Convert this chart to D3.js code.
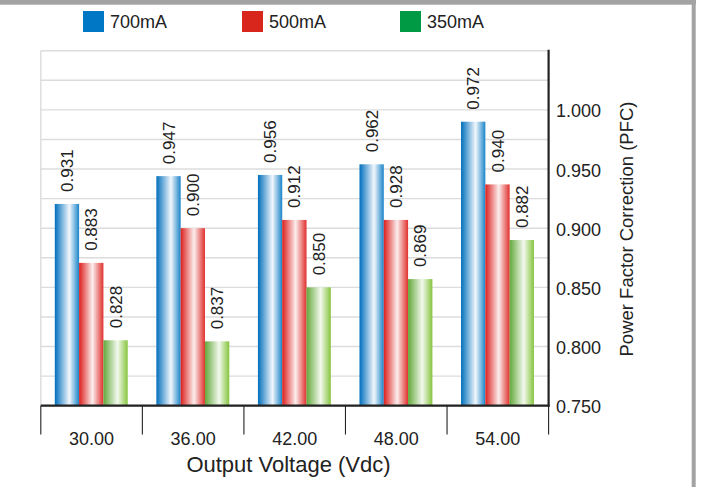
<!DOCTYPE html>
<html><head><meta charset="utf-8">
<script src="https://cdn.jsdelivr.net/npm/d3@7"></script>
<style>
html,body{margin:0;padding:0;background:#fff;}
svg{display:block;font-family:"Liberation Sans",Arial,sans-serif;}
</style></head>
<body><svg id="c" width="704" height="487"></svg>
<script>
const categories = ["30.00","36.00","42.00","48.00","54.00"];
const seriesNames = ["700mA","500mA","350mA"];
// bar heights as drawn
const pfc700 = [0.9205, 0.944, 0.945, 0.954, 0.990];
const pfc500 = [0.8707, 0.900, 0.907, 0.907, 0.937];
const pfc350 = [0.8053, 0.8044, 0.850, 0.857, 0.890];
// value labels as printed
const label700 = ["0.931","0.947","0.956","0.962","0.972"];
const label500 = ["0.883","0.900","0.912","0.928","0.940"];
const label350 = ["0.828","0.837","0.850","0.869","0.882"];
const yTicks = [0.750,0.800,0.850,0.900,0.950,1.000];
const yDomain = [0.75, 1.05];

const series = [
  {name: seriesNames[0], values: pfc700, labels: label700, key:"b"},
  {name: seriesNames[1], values: pfc500, labels: label500, key:"r"},
  {name: seriesNames[2], values: pfc350, labels: label350, key:"g"}
];
const solid = {b:"#0077c4", r:"#d9261c", g:"#009a44"};
const grads = {
  b:[["0%","#006fbd"],["60%","#f2f7fc"],["100%","#1b84c9"]],
  r:[["0%","#dd1f1c"],["55%","#fbeeee"],["100%","#e0302c"]],
  g:[["0%","#63a83a"],["58%","#f3f9ee"],["100%","#86c43e"]]
};

const svg = d3.select("#c");
const defs = svg.append("defs");
Object.entries(grads).forEach(([k,stops])=>{
  const lg = defs.append("linearGradient").attr("id","grad-"+k)
    .attr("x1","0%").attr("x2","100%").attr("y1","0%").attr("y2","0%");
  stops.forEach(s=>lg.append("stop").attr("offset",s[0]).attr("stop-color",s[1]));
});

const L = 40.8, R = 548.6, T = 50.7, B = 405.7;
const x = d3.scaleBand().domain(categories).range([L,R]).padding(0);
const y = d3.scaleLinear().domain(yDomain).range([B,T]);
const barW = 24.3, groupOff = 14;

// outer frame
svg.append("rect").attr("x",0).attr("y",0).attr("width",696).attr("height",4.7).attr("fill","#a3a3a3");
svg.append("rect").attr("x",691.7).attr("y",0).attr("width",4).attr("height",487).attr("fill","#a3a3a3");

// gridlines
const grid = d3.range(0, 13).map(i => yDomain[0] + i*0.025);
svg.append("g").selectAll("line").data(grid).join("line")
  .attr("x1",L).attr("x2",R).attr("y1",d=>y(d)).attr("y2",d=>y(d))
  .attr("stroke","#dcdcdc").attr("stroke-width",1.4);
svg.append("line").attr("x1",L).attr("x2",L).attr("y1",T).attr("y2",B)
  .attr("stroke","#dcdcdc").attr("stroke-width",1.4);

// bars
series.forEach((s,si)=>{
  svg.append("g").selectAll("rect").data(s.values).join("rect")
    .attr("x",(d,i)=>x(categories[i]) + groupOff + si*barW)
    .attr("y",d=>y(d))
    .attr("width",barW)
    .attr("height",d=>B - y(d))
    .attr("fill","url(#grad-"+s.key+")");
  svg.append("g").selectAll("text").data(s.values).join("text")
    .attr("transform",(d,i)=>{
      const cx = x(categories[i]) + groupOff + si*barW + barW/2;
      return `translate(${cx},${y(d)-12}) rotate(-90)`;
    })
    .attr("dy","0.36em")
    .attr("font-size",17).attr("fill","#222")
    .text((d,i)=>s.labels[i]);
});

// bottom axis with band-boundary ticks
svg.append("line").attr("x1",L).attr("x2",R+1).attr("y1",B).attr("y2",B)
  .attr("stroke","#222").attr("stroke-width",2.2);
const bounds = categories.map(c=>x(c)).concat([R]);
svg.append("g").selectAll("line").data(bounds).join("line")
  .attr("x1",d=>d).attr("x2",d=>d).attr("y1",B).attr("y2",434.5)
  .attr("stroke","#222").attr("stroke-width",1.1);
svg.append("g").selectAll("text").data(categories).join("text")
  .attr("x",d=>x(d)+x.bandwidth()/2).attr("y",445)
  .attr("text-anchor","middle").attr("font-size",18).attr("fill","#222")
  .text(d=>d);

// right axis
svg.append("line").attr("x1",R).attr("x2",R).attr("y1",T-1).attr("y2",B+1)
  .attr("stroke","#222").attr("stroke-width",2.2);
svg.append("g").selectAll("text").data(yTicks).join("text")
  .attr("x",556).attr("y",d=>y(d)+1).attr("dy","0.36em")
  .attr("font-size",18).attr("fill","#222")
  .text(d=>d3.format(".3f")(d));

// axis titles
svg.append("text").attr("x",288.5).attr("y",472).attr("text-anchor","middle")
  .attr("font-size",22).attr("fill","#222").text("Output Voltage (Vdc)");
svg.append("text").attr("transform","translate(633,229) rotate(-90)")
  .attr("text-anchor","middle").attr("font-size",18.5).attr("fill","#222")
  .text("Power Factor Correction (PFC)");

// legend
const legX = [83, 242, 400];
series.forEach((s,i)=>{
  svg.append("rect").attr("x",legX[i]).attr("y",11).attr("width",21).attr("height",21)
    .attr("fill",solid[s.key]);
  svg.append("text").attr("x",legX[i]+27).attr("y",28.3)
    .attr("font-size",18).attr("fill","#222").text(s.name);
});
</script></body></html>
